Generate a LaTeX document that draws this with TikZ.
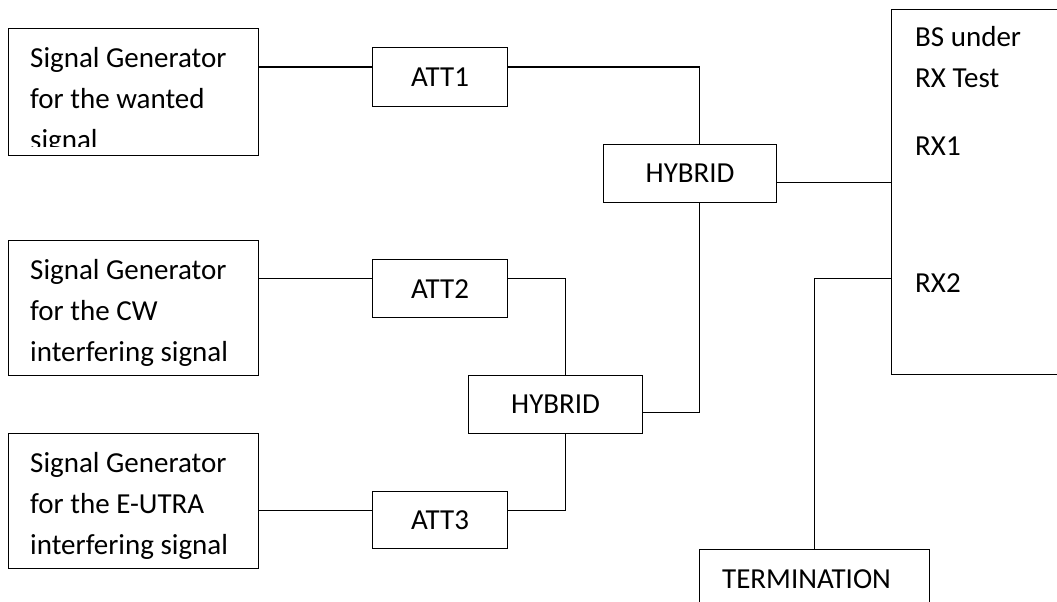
\documentclass[tikz,border=0pt]{standalone}
\usepackage{fontspec}
\setmainfont{Carlito}
\usetikzlibrary{positioning}

\begin{document}
\begin{tikzpicture}[x=1pt,y=-1pt,
  blk/.style={draw, line width=1.3pt, inner sep=0pt, anchor=north west, font=\fontsize{29}{41}\selectfont},
  wire/.style={line width=1.3pt},
  lbl/.style={anchor=base west, inner sep=0pt, font=\fontsize{29}{41}\selectfont}]
\useasboundingbox (0,0) rectangle (1057,602);
\clip (0,0) rectangle (1057,602);

% generators
\node[blk, minimum width=250pt, minimum height=127pt] (sg1) at (8,28) {};
\node[blk, minimum width=250pt, minimum height=135pt] (sg2) at (8,240) {};
\node[blk, minimum width=250pt, minimum height=135pt] (sg3) at (8,433) {};
\begin{scope}
\clip (sg1.north west) rectangle ([yshift=10pt]sg1.south east);
\foreach \t [count=\i] in {Signal Generator,for the wanted,signal}
  \node[lbl] (sg1l\i) at ([shift={(22,39+41*(\i-1))}]sg1.north west) {\t};
\end{scope}
\foreach \t [count=\i] in {Signal Generator,for the CW,interfering signal}
  \node[lbl] (sg2l\i) at ([shift={(22,39+41*(\i-1))}]sg2.north west) {\t};
\foreach \t [count=\i] in {Signal Generator,for the E-UTRA,interfering signal}
  \node[lbl] (sg3l\i) at ([shift={(22,39+41*(\i-1))}]sg3.north west) {\t};

% attenuators and hybrids
\node[blk, minimum width=135pt, minimum height=59pt] (att1) at (372,47) {ATT1};
\node[blk, minimum width=135pt, minimum height=58pt] (att2) at (372,259) {ATT2};
\node[blk, minimum width=135pt, minimum height=57pt] (att3) at (372,491) {ATT3};
\node[blk, minimum width=173pt, minimum height=58pt] (hyb1) at (603,144) {HYBRID};
\node[blk, minimum width=174pt, minimum height=58pt] (hyb2) at (468,375) {HYBRID};

% BS and termination
\node[blk, minimum width=250pt, minimum height=365pt] (bs) at (891,9) {};
\node[lbl] (bsl1) at ([shift={(24,38)}]bs.north west) {BS under};
\node[lbl] (bsl2) at ([shift={(24,78)}]bs.north west) {RX Test};
\node[lbl] (rx1) at ([shift={(24,146)}]bs.north west) {RX1};
\node[lbl] (rx2) at ([shift={(24,283)}]bs.north west) {RX2};
\node[blk, minimum width=230pt, minimum height=100pt] (term) at (699,549) {};
\node[lbl] (terml) at ([shift={(23,39)}]term.north west) {TERMINATION};

% wiring
\draw[wire] ([yshift=25pt]sg1.east) -- ([yshift=10pt]att1.west);
\draw[wire] ([yshift=10pt]att1.east) -| ([xshift=9.5pt]hyb1.north);
\draw[wire] ([yshift=-9pt]hyb1.east) -- ([yshift=9.5pt]bs.west);
\draw[wire] ([xshift=9.5pt]hyb1.south) |- ([yshift=-8pt]hyb2.east);
\draw[wire] ([yshift=29.5pt]sg2.east) -- ([yshift=10pt]att2.west);
\draw[wire] ([yshift=10pt]att2.east) -| ([xshift=9.5pt]hyb2.north);
\draw[wire] ([xshift=9.5pt]hyb2.south) |- ([yshift=10pt]att3.east);
\draw[wire] ([yshift=-9pt]sg3.east) -- ([yshift=10pt]att3.west);
\draw[wire] (term.north) |- ([yshift=-86.5pt]bs.west);
\end{tikzpicture}
\end{document}
